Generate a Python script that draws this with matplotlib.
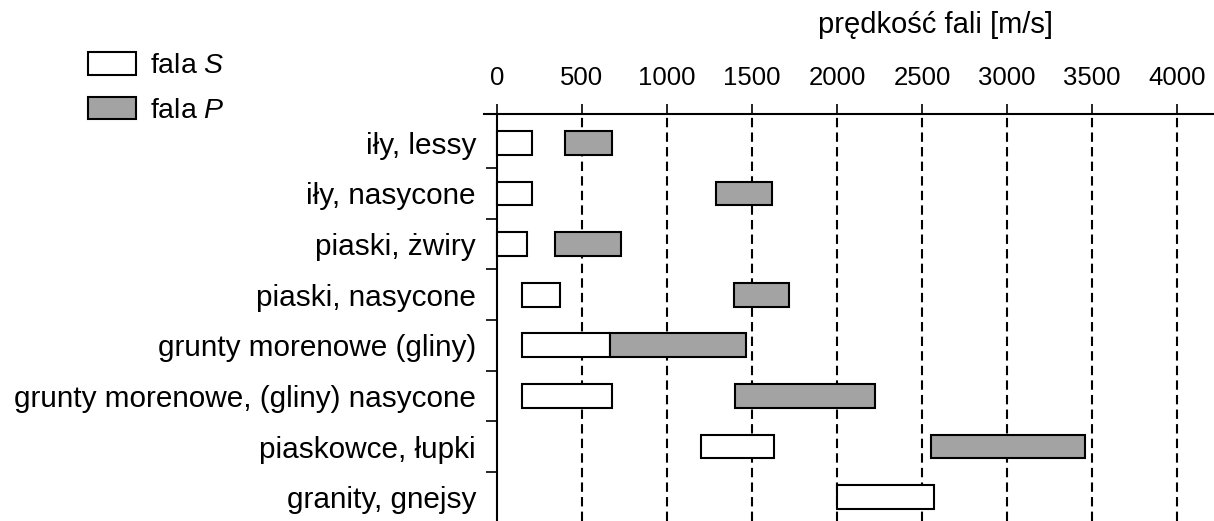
import matplotlib
matplotlib.use('Agg')
import matplotlib.pyplot as plt
import numpy as np

plt.rcParams['font.family'] = ['Liberation Sans', 'DejaVu Sans']
plt.rcParams['mathtext.fontset'] = 'custom'
plt.rcParams['mathtext.it'] = 'Liberation Sans:italic'
plt.rcParams['mathtext.rm'] = 'Liberation Sans'

# zakresy predkosci fal [m/s] dla gruntow i skal
grunty = ['iły, lessy', 'iły, nasycone', 'piaski, żwiry', 'piaski, nasycone',
          'grunty morenowe (gliny)', 'grunty morenowe, (gliny) nasycone',
          'piaskowce, łupki', 'granity, gnejsy']
s_od = [0, 0, 0, 150, 150, 150, 1200, 2000]
s_do = [210, 210, 180, 370, 665, 680, 1630, 2570]
p_od = [400, 1290, 340, 1395, 665, 1400, 2550, None]
p_do = [680, 1620, 730, 1720, 1465, 2225, 3460, None]
ticks = [0, 500, 1000, 1500, 2000, 2500, 3000, 3500, 4000]

fig = plt.figure(figsize=(12.14, 5.21), dpi=100)
ax = fig.add_axes([484 / 1214, 0.0, 730 / 1214, 1 - 114 / 521])

y = np.arange(len(grunty))
h = 0.47

# linie przerywane
for t in ticks[1:]:
    ax.axvline(t, color='black', lw=1.5, dashes=(4.5, 2.5), zorder=1)

ax.barh(y, np.array(s_do) - np.array(s_od), left=s_od, height=h,
        color='white', edgecolor='black', lw=1.5, zorder=3, label='fala $\\mathit{S}$')
idx = [i for i in range(len(grunty)) if p_od[i] is not None]
ax.barh(y[idx], [p_do[i] - p_od[i] for i in idx], left=[p_od[i] for i in idx], height=h,
        color='#a3a3a3', edgecolor='black', lw=1.5, zorder=3, label='fala $\\mathit{P}$')

ax.set_xlim(-75, 4216)
ax.set_ylim(7.47, -0.57)

ax.xaxis.tick_top()
ax.set_xticks(ticks)
ax.set_xticklabels([str(t) for t in ticks])
ax.tick_params(axis='x', direction='out', length=7, width=1.2, pad=10, labelsize=18.5)

ax.set_yticks(y[:-1] + 0.5, minor=True)
ax.set_yticks(y)
ax.set_yticklabels(grunty)
ax.tick_params(axis='y', which='major', length=0, pad=15, labelsize=21.4)
ax.tick_params(axis='y', which='minor', length=8, width=1.2)

ax.spines['left'].set_position(('data', 0))
ax.spines['left'].set_linewidth(1.5)
ax.spines['top'].set_linewidth(1.5)
ax.spines['right'].set_visible(False)
ax.spines['bottom'].set_visible(False)

fig.text(936 / 1214, 1 - 25 / 521, 'prędkość fali [m/s]', fontsize=21, ha='center', va='center')

fig.legend(loc='upper left', bbox_to_anchor=(88 / 1214, 1 - 52 / 521), frameon=False,
           fontsize=20.5, handlelength=1.68, handleheight=0.84, handletextpad=0.5,
           labelspacing=0.62, borderaxespad=0, borderpad=0)

plt.savefig('out.png', dpi=100)
